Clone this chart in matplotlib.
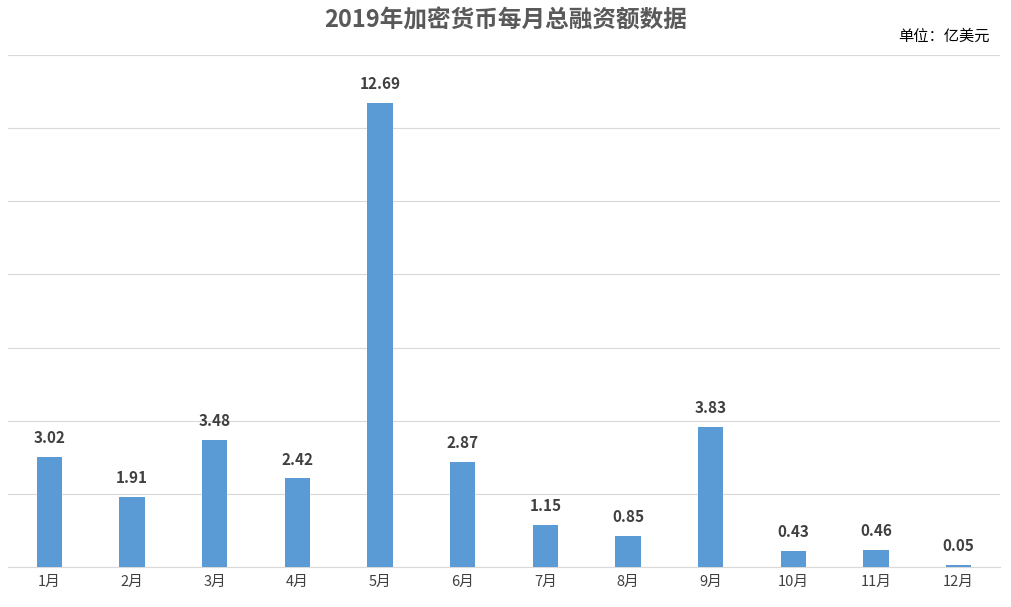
import matplotlib
matplotlib.use("Agg")
import matplotlib.pyplot as plt

plt.rcParams['font.family'] = ['Noto Sans CJK SC', 'DejaVu Sans']

months = ["1月","2月","3月","4月","5月","6月","7月","8月","9月","10月","11月","12月"]
values = [3.02,1.91,3.48,2.42,12.69,2.87,1.15,0.85,3.83,0.43,0.46,0.05]

fig = plt.figure(figsize=(10.11,6.07), dpi=100)
ax = fig.add_axes([8/1011, 40/607, 992/1011, 512/607])
x = range(len(months))
ax.bar(x, values, width=0.31, color="#5B9BD5", zorder=3)
for i, v in zip(x, values):
    ax.text(i, v+0.3, f"{v:.2f}", ha="center", va="bottom", fontsize=11, fontweight="bold", color="#404040")
ax.set_xlim(-0.5, 11.5)
ax.set_ylim(0, 14)
ax.set_yticks(range(0, 15, 2))
ax.yaxis.grid(True, color="#d9d9d9", lw=0.8, zorder=0)
ax.tick_params(axis='y', left=False, labelleft=False)
ax.tick_params(axis='x', length=0, labelsize=10.5, labelcolor="#404040", pad=6)
ax.set_xticks(list(x))
ax.set_xticklabels(months)
for s in ["top","right","left"]:
    ax.spines[s].set_visible(False)
ax.spines["bottom"].set_color("#d9d9d9")
fig.text(0.5, 1-20/607, "2019年加密货币每月总融资额数据", ha="center", va="center", fontsize=17, fontweight="bold", color="#595959")
fig.text(990/1011, 1-36/607, "单位：亿美元", ha="right", va="center", fontsize=11, color="#000000")
fig.savefig("out.png", dpi=100)
